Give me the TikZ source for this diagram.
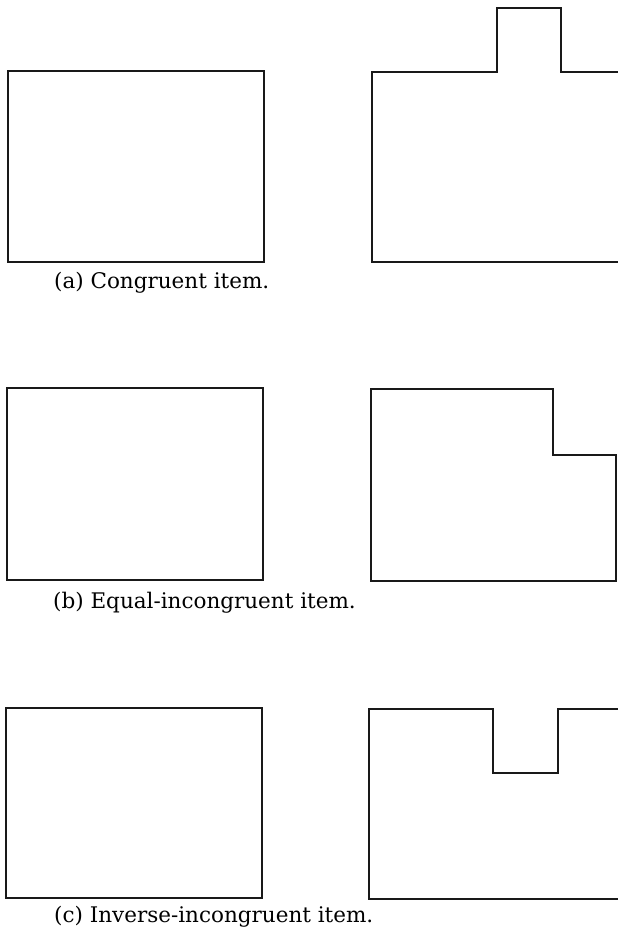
\documentclass[tikz,border=0pt]{standalone}
\usepackage{fontspec}
\setmainfont{DejaVu Serif}
\begin{document}
\begin{tikzpicture}[x=1pt,y=-1pt,
  outline/.style={draw=black!90, line width=2.3pt, line join=miter},
  caption/.style={anchor=base west, inner sep=0pt, font=\fontsize{21.5}{25}\selectfont}]
\useasboundingbox (0,0) rectangle (618,930);
\fill[white] (0,0) rectangle (618,930);
\clip (0,0) rectangle (618,930);
% (a)
\draw[outline] (8,71) rectangle (264,262);
\draw[outline] (625,72) -- (561,72) -- (561,8) -- (497,8) -- (497,72) -- (372,72) -- (372,262) -- (625,262);
\node[caption] (capa) at (54,288) {(a) Congruent item.};
% (b)
\draw[outline] (7,388) rectangle (263,580);
\draw[outline] (371,389) -- (553,389) -- (553,455) -- (616,455) -- (616,581) -- (371,581) -- cycle;
\node[caption] (capb) at (53,608) {(b) Equal-incongruent item.};
% (c)
\draw[outline] (6,708) rectangle (262,898);
\draw[outline] (625,709) -- (558,709) -- (558,773) -- (493,773) -- (493,709) -- (369,709) -- (369,899) -- (625,899);
\node[caption] (capc) at (54,922) {(c) Inverse-incongruent item.};
\end{tikzpicture}
\end{document}
